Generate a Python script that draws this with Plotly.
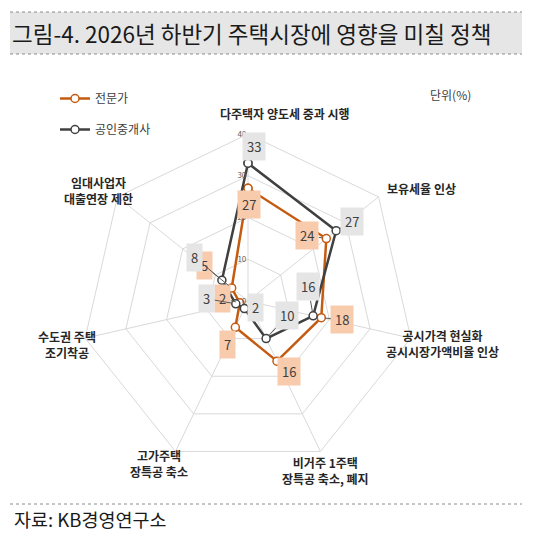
import math
import plotly.graph_objects as go

# ─── Data ─────────────────────────────────────────────────────────────
policies = [
    "다주택자 양도세 중과 시행",
    "보유세율 인상",
    "공시가격 현실화<br>공시시장가액비율 인상",
    "비거주 1주택<br>장특공 축소, 폐지",
    "고가주택<br>장특공 축소",
    "수도권 주택<br>조기착공",
    "임대사업자<br>대출연장 제한",
]
expert = [27, 24, 18, 16, 7, 2, 5]
broker = [33, 27, 16, 10, 2, 3, 8]
series_names = ["전문가", "공인중개사"]
radial_ticks = [0, 10, 20, 30, 40]

# ─── Theme ────────────────────────────────────────────────────────────
_FONT = "Noto Sans CJK KR, Noto Sans, sans-serif"
_ORANGE = "#c55a11"
_DARK = "#404040"
_GRID = "#d9d9d9"
_ORANGE_BOX = "#f8cbad"
_GRAY_BOX = "#e6e5e5"
_TEXT = "#262626"

W, H = 546, 539
R_MAX = 40

# polar area in pixels (square), left/right/top/bottom
PX0, PX1, PY0, PY1 = 81, 415, 134, 468
dom_x = [PX0 / W, PX1 / W]
dom_y = [1 - PY1 / H, 1 - PY0 / H]

# label offsets (pixels) for value boxes, per point
expert_off = [(1, 16), (-19, -3), (21, 2), (12, 10), (-8, 17), (-17, -4), (-27, -22)]
broker_off = [(6, -17), (16, -9), (-5, -29), (21, -23), (11, -1), (-29, -5), (-27, -23)]
# category label shifts (xshift, yshift) from the outer vertex
cat_shift = [(37, 21), (43, 8), (32, -5), (5, -19), (-17, -12), (-18, -6), (-19, 6)]


def _xy(i, v):
    ang = 2 * math.pi * i / len(policies)
    return v * math.sin(ang), v * math.cos(ang)


fig = go.Figure()

for name, vals, color in [(series_names[0], expert, _ORANGE), (series_names[1], broker, _DARK)]:
    fig.add_trace(go.Scatterpolar(
        name=name,
        r=vals + vals[:1],
        theta=policies + policies[:1],
        mode="lines+markers",
        line=dict(color=color, width=2.5),
        marker=dict(size=8, color="white", line=dict(color=color, width=1.5)),
        legendgroup=name,
        hoverinfo="skip",
    ))

# invisible cartesian overlay so value boxes can sit on the data points
fig.add_trace(go.Scatter(x=[], y=[], showlegend=False, hoverinfo="skip"))

annotations = []
for vals, offs, box in [(expert, expert_off, _ORANGE_BOX), (broker, broker_off, _GRAY_BOX)]:
    for i, v in enumerate(vals):
        x, y = _xy(i, v)
        annotations.append(dict(
            x=x, y=y, xref="x", yref="y",
            text=str(v),
            showarrow=True, arrowhead=0, arrowwidth=1, arrowcolor="#595959",
            standoff=4, ax=offs[i][0], ay=offs[i][1],
            bgcolor=box, borderpad=4,
            font=dict(family=_FONT, size=13, color=_DARK),
        ))

for i, label in enumerate(policies):
    x, y = _xy(i, R_MAX)
    annotations.append(dict(
        x=x, y=y, xref="x", yref="y",
        text=f"<b>{label}</b>", showarrow=False,
        xshift=cat_shift[i][0], yshift=cat_shift[i][1],
        font=dict(family=_FONT, size=12, color=_TEXT),
    ))

# title, unit, source
annotations += [
    dict(x=10 / W, y=1 - 33 / H, xref="paper", yref="paper", xanchor="left", yanchor="middle",
         text="그림-4. 2026년 하반기 주택시장에 영향을 미칠 정책", showarrow=False,
         font=dict(family=_FONT, size=22.5, color="#1a1a1a")),
    dict(x=428 / W, y=1 - 95 / H, xref="paper", yref="paper", xanchor="left", yanchor="middle",
         text="단위(%)", showarrow=False, font=dict(family=_FONT, size=12, color=_DARK)),
    dict(x=12 / W, y=1 - 519 / H, xref="paper", yref="paper", xanchor="left", yanchor="middle",
         text="자료: KB경영연구소", showarrow=False, font=dict(family=_FONT, size=18.5, color="#1a1a1a")),
]

shapes = [
    dict(type="rect", xref="paper", yref="paper", x0=10 / W, x1=522 / W,
         y0=1 - 54 / H, y1=1 - 12 / H, fillcolor="#e6e6e6", line=dict(width=0), layer="below"),
    dict(type="line", xref="paper", yref="paper", x0=10 / W, x1=522 / W,
         y0=1 - 12 / H, y1=1 - 12 / H, line=dict(color="#8c8c8c", width=1, dash="dot")),
    dict(type="line", xref="paper", yref="paper", x0=10 / W, x1=522 / W,
         y0=1 - 54 / H, y1=1 - 54 / H, line=dict(color="#8c8c8c", width=1, dash="dot")),
    dict(type="line", xref="paper", yref="paper", x0=10 / W, x1=522 / W,
         y0=1 - 504 / H, y1=1 - 504 / H, line=dict(color="#8c8c8c", width=1, dash="dot")),
]

fig.update_layout(
    width=W, height=H,
    margin=dict(l=0, r=0, t=0, b=0),
    paper_bgcolor="white",
    plot_bgcolor="rgba(0,0,0,0)",
    font=dict(family=_FONT, color=_DARK),
    polar=dict(
        domain=dict(x=dom_x, y=dom_y),
        bgcolor="white",
        gridshape="linear",
        angularaxis=dict(
            rotation=90, direction="clockwise",
            showticklabels=False, ticks="",
            gridcolor=_GRID, linecolor=_GRID, linewidth=1,
        ),
        radialaxis=dict(
            range=[0, R_MAX], tickvals=radial_ticks, angle=90, tickangle=90,
            side="counterclockwise", showline=False, ticks="",
            gridcolor=_GRID, tickfont=dict(family=_FONT, size=8, color="#595959"),
        ),
    ),
    xaxis=dict(domain=dom_x, range=[-R_MAX, R_MAX], visible=False, fixedrange=True),
    yaxis=dict(domain=dom_y, range=[-R_MAX, R_MAX], visible=False, fixedrange=True),
    legend=dict(
        x=55 / W, y=1 - 84 / H, xanchor="left", yanchor="top",
        font=dict(family=_FONT, size=12, color=_DARK),
        bgcolor="rgba(0,0,0,0)", tracegroupgap=12, itemwidth=30,
    ),
    hovermode=False,
    annotations=annotations,
    shapes=shapes,
)

# page body has a default 8px margin; drop it so the figure sits at the window corner
fig.write_html(
    "out.html",
    config={"displayModeBar": False},
    post_script="document.body.style.margin='0';",
)
